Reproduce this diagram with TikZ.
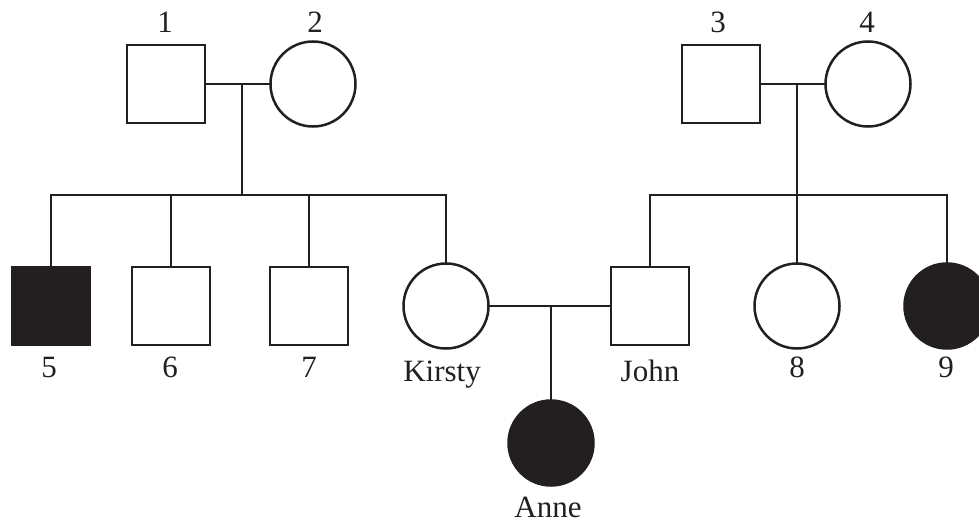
\documentclass[tikz,border=0pt]{standalone}
\usepackage{fontspec}
\setmainfont{Liberation Serif}
\definecolor{ink}{HTML}{231F20}
\begin{document}
\begin{tikzpicture}[x=1pt,y=-1pt, line width=2.5pt, draw=ink,
  male/.style={draw=ink, rectangle, minimum size=78pt, inner sep=0pt, outer sep=0pt},
  female/.style={draw=ink, circle, minimum size=85pt, inner sep=0pt, outer sep=0pt},
  affected/.style={fill=ink},
  lbl/.style={font=\fontsize{31}{36}\selectfont, text=ink, anchor=base, inner sep=0pt}]
\useasboundingbox (0,0) rectangle (979,522);
% generation I
\node[male] (p1) at (166,84) {};
\node[female] (p2) at (313,84) {};
\node[male] (p3) at (721,84) {};
\node[female] (p4) at (868,84) {};
% generation II
\node[male, affected] (c5) at (51,306) {};
\node[male] (c6) at (171,306) {};
\node[male] (c7) at (309,306) {};
\node[female] (kirsty) at (446,306) {};
\node[male] (john) at (650,306) {};
\node[female] (c8) at (797,306) {};
\node[female, affected] (c9) at (947,306) {};
% generation III
\node[female, affected] (anne) at (551,443) {};
% helper coordinates
\coordinate (m12) at (242,84);
\coordinate (s12) at (242,195);
\coordinate (m34) at (797,84);
\coordinate (s34) at (797,195);
\coordinate (mkj) at (551,306);
% connectors
\draw[ink] (p1.east) -- (p2.west);
\draw[ink] (m12) -- (s12);
\draw[ink] (c5.north) |- (s12) -| (kirsty.north);
\draw[ink] (c6.north) -- (c6.north |- s12);
\draw[ink] (c7.north) -- (c7.north |- s12);
\draw[ink] (p3.east) -- (p4.west);
\draw[ink] (m34) -- (s34);
\draw[ink] (john.north) |- (s34) -| (c9.north);
\draw[ink] (c8.north) -- (s34);
\draw[ink] (kirsty.east) -- (john.west);
\draw[ink] (mkj) -- (anne.north);
% labels
\node[lbl] (l1) at (165,32) {1};
\node[lbl] (l2) at (315,32) {2};
\node[lbl] (l3) at (718,32) {3};
\node[lbl] (l4) at (867,32) {4};
\node[lbl] (l5) at (49,377) {5};
\node[lbl] (l6) at (170,377) {6};
\node[lbl] (l7) at (309,377) {7};
\node[lbl] (lk) at (442,381) {Kirsty};
\node[lbl] (lj) at (650,381) {John};
\node[lbl] (l8) at (797,377) {8};
\node[lbl] (l9) at (946,377) {9};
\node[lbl] (la) at (548,517) {Anne};
\end{tikzpicture}
\end{document}
